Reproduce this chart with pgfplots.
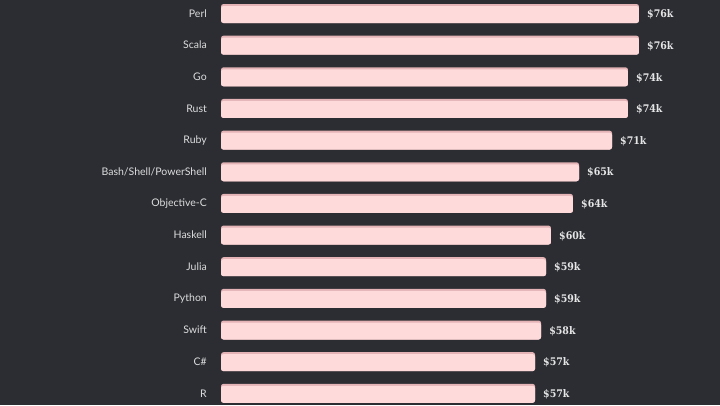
\documentclass[border=0pt]{standalone}
\usepackage{fontspec}
\setmainfont{Lato}
\newfontfamily\valfont{DejaVu Serif Condensed}
\usepackage{pgfplots}
\pgfplotsset{compat=1.18}
\usepackage{pgfplotstable}
\definecolor{bg}{HTML}{2B2D32}
\definecolor{barpink}{HTML}{FFDADB}
\definecolor{barshade}{HTML}{E3B3B6}
\definecolor{labcol}{HTML}{DDDDDD}
\definecolor{valcol}{HTML}{E6E6E6}
\pgfplotstableread{
y x lab
0 76.0 76
1 76.0 76
2 74.0 74
3 74.0 74
4 71.1 71
5 65.1 65
6 64.0 64
7 60.0 60
8 59.1 59
9 59.1 59
10 58.2 58
11 57.1 57
12 57.1 57
}\data
\begin{document}
\begin{tikzpicture}
\fill[bg] (0,0) rectangle (720pt,405pt);
\useasboundingbox (0,0) rectangle (720pt,405pt);
\begin{axis}[at={(221pt,0pt)}, anchor=south west, scale only axis,
  width=495pt, height=405pt,
  xmin=0, xmax=90, ymin=-0.427, ymax=12.37, y dir=reverse,
  ytick={0,...,12},
  yticklabels={Perl,Scala,Go,Rust,Ruby,Bash/Shell/PowerShell,Objective-C,Haskell,Julia,Python,Swift,C\#,R},
  xtick=\empty, axis line style={draw=none}, major tick length=0pt,
  yticklabel style={font=\fontsize{10.5}{12}\selectfont, text=labcol, inner sep=0pt, xshift=-14pt},
  clip=false]
\addplot[xbar, bar width=19pt, bar shift=0pt, fill=barshade, draw=none, rounded corners=2.5pt]
  table[x=x,y=y]{\data};
\addplot[xbar, bar width=17pt, bar shift=-1pt, fill=barpink, draw=none, rounded corners=2.5pt,
  point meta=explicit symbolic,
  nodes near coords={\$\pgfplotspointmeta k},
  nodes near coords style={font=\valfont\bfseries\fontsize{10.5}{12}\selectfont, text=valcol, anchor=west, inner sep=0pt, xshift=8pt, yshift=-1pt}]
  table[x=x,y=y,meta=lab]{\data};
\end{axis}
\end{tikzpicture}
\end{document}
